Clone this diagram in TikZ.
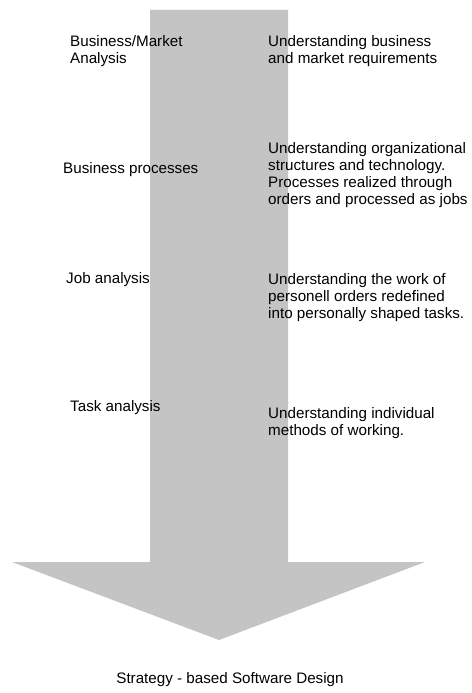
\documentclass[tikz,border=0pt]{standalone}
\usepackage{fontspec}
\setmainfont{Liberation Sans}
\definecolor{arrowgray}{RGB}{196,196,196}
\begin{document}
\begin{tikzpicture}[x=1pt,y=-1pt,
  lbl/.style={anchor=west,inner sep=0pt,align=left,font=\fontsize{15.2}{17}\selectfont},
  arrowbody/.style={fill=arrowgray,draw=none}]
\useasboundingbox (0,0) rectangle (471,693);
\fill[white] (0,0) rectangle (471,693);
\path[arrowbody] (150,10) -- (288,10) -- (288,562) -- (425,562) -- (219,640) -- (12,562) -- (150,562) -- cycle;
\node[lbl] (l1) at (70,51.5) {Business/Market\\Analysis};
\node[lbl] (r1) at (268,51.5) {Understanding business\\and market requirements};
\node[lbl] (l2) at (63,170) {Business processes};
\node[lbl] (r2) at (268,175) {Understanding organizational\\structures and technology.\\Processes realized through\\orders and processed as jobs};
\node[lbl] (l3) at (66,280) {Job analysis};
\node[lbl] (r3) at (268,298) {Understanding the work of\\personell orders redefined\\into personally shaped tasks.};
\node[lbl] (l4) at (70,408) {Task analysis};
\node[lbl] (r4) at (268,423.5) {Understanding individual\\methods of working.};
\node[lbl,anchor=center] (b) at (230,680) {Strategy - based Software Design};
\end{tikzpicture}
\end{document}
